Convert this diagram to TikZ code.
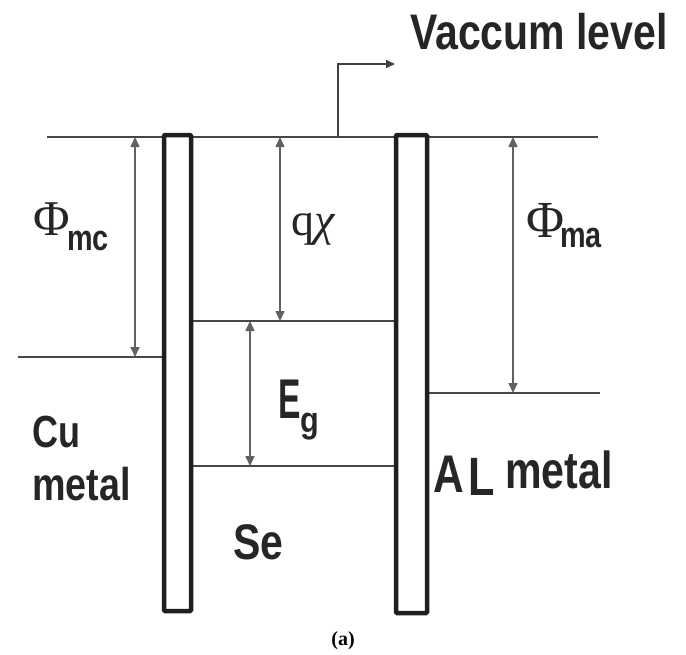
\documentclass[tikz,border=0pt]{standalone}
\usepackage{fontspec}
\usepackage{graphicx}
\setmainfont{Liberation Serif}
\setsansfont{Liberation Sans}
\usetikzlibrary{arrows.meta}
\begin{document}
\begin{tikzpicture}[x=1pt,y=-1pt,
  bar/.style={line width=4.5pt, draw=black!88, fill=white, rounded corners=1pt},
  level/.style={line width=2pt, draw=black!72},
  dimarrow/.style={line width=1.6pt, draw=black!62, fill=black!62,
    {Triangle[width=9pt,length=10pt]}-{Triangle[width=9pt,length=10pt]}},
  lbl/.style={inner sep=0pt, text=black!85, anchor=base west},
  sbold/.style={lbl, font=\sffamily\bfseries\fontsize{#1}{#1}\selectfont},
]
\useasboundingbox (0,0) rectangle (686,654);
% level end points
\coordinate (vacL) at (47,137);  \coordinate (vacR) at (598,137);
\coordinate (cuL) at (18,357);   \coordinate (cuR) at (164,357);
\coordinate (alL) at (427,393);  \coordinate (alR) at (600,393);
\coordinate (cbL) at (191,321);  \coordinate (cbR) at (396,321);
\coordinate (vbL) at (191,466);  \coordinate (vbR) at (396,466);
% levels
\draw[level] (vacL) -- (vacR);
\draw[level] (cuL) -- (cuR);
\draw[level] (alL) -- (alR);
\draw[level] (cbL) -- (cbR);
\draw[level] (vbL) -- (vbR);
% bars
\draw[bar] (164,135) rectangle (191,611);
\draw[bar] (396,135) rectangle (427,613);
% dimension arrows
\coordinate (mcT) at (135,137); \coordinate (mcB) at (135,357);
\coordinate (qT) at (280,137);  \coordinate (qB) at (280,321);
\coordinate (egT) at (250,321); \coordinate (egB) at (250,466);
\coordinate (maT) at (513,137); \coordinate (maB) at (513,393);
\draw[dimarrow] (mcT) -- (mcB);
\draw[dimarrow] (qT) -- (qB);
\draw[dimarrow] (egT) -- (egB);
\draw[dimarrow] (maT) -- (maB);
% vacuum level pointer
\coordinate (vp0) at (338,137); \coordinate (vp1) at (338,64); \coordinate (vp2) at (395,64);
\draw[line width=1.8pt, draw=black!75, -{Triangle[width=8pt,length=9pt]}] (vp0) -- (vp1) -- (vp2);
% labels
\node[sbold=50] (vac) at (410,49) {\scalebox{0.82}[1]{Vaccum level}};
\node[lbl, font=\fontsize{50}{56}\selectfont] (phimc) at (33,235) {Φ};
\node[sbold=36] (mc) at (67,250) {\scalebox{0.8}[1]{mc}};
\node[lbl, font=\fontsize{46}{50}\selectfont] (qchi) at (291,235) {q\textit{χ}};
\node[lbl, font=\fontsize{52}{56}\selectfont] (phima) at (526,237) {Φ};
\node[sbold=36] (ma) at (560,247) {\scalebox{0.8}[1]{ma}};
\node[sbold=56] (E) at (278,418) {\scalebox{0.6}[1]{E}};
\node[sbold=36] (g) at (300,432) {\scalebox{0.85}[1]{g}};
\node[sbold=45] (cu) at (32,447) {\scalebox{0.8}[1]{Cu}};
\node[sbold=46] (cumetal) at (32,500) {\scalebox{0.82}[1]{metal}};
\node[sbold=50] (se) at (233,559) {\scalebox{0.82}[1]{Se}};
\node[sbold=53] (A) at (433,492) {\scalebox{0.8}[1]{A}};
\node[sbold=54] (L) at (468,495) {\scalebox{0.8}[1]{L}};
\node[sbold=52] (almetal) at (505,488) {\scalebox{0.79}[1]{metal}};
\node[inner sep=0pt, font=\bfseries\fontsize{20}{22}\selectfont] (cap) at (343,641) {(a)};
\end{tikzpicture}
\end{document}
